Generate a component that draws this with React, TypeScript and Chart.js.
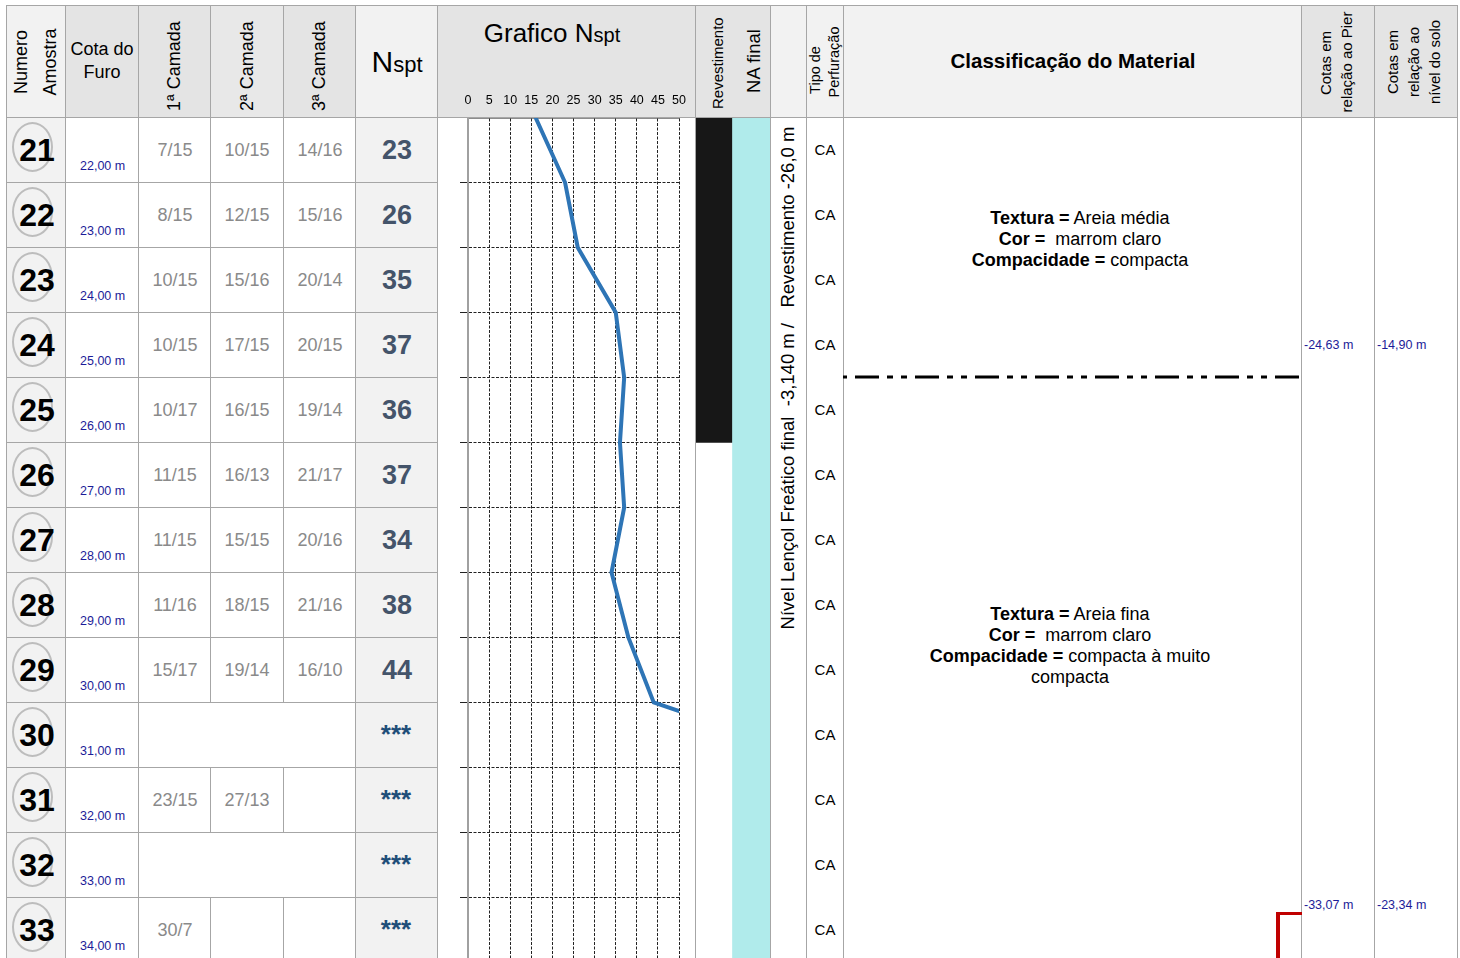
import React, { useEffect, useRef } from "react";
import { Chart, registerables } from "chart.js";

Chart.register(...registerables);

const FONT = "'Liberation Sans', Arial, Helvetica, sans-serif";

// ---------------- data ----------------
const sampleNumbers = [21, 22, 23, 24, 25, 26, 27, 28, 29, 30, 31, 32, 33];
const cotaDoFuro = ["22,00 m", "23,00 m", "24,00 m", "25,00 m", "26,00 m", "27,00 m", "28,00 m", "29,00 m", "30,00 m", "31,00 m", "32,00 m", "33,00 m", "34,00 m"];
const camada1 = ["7/15", "8/15", "10/15", "10/15", "10/17", "11/15", "11/15", "11/16", "15/17", "", "23/15", "", "30/7"];
const camada2 = ["10/15", "12/15", "15/16", "17/15", "16/15", "16/13", "15/15", "18/15", "19/14", "", "27/13", "", ""];
const camada3 = ["14/16", "15/16", "20/14", "20/15", "19/14", "21/17", "20/16", "21/16", "16/10", "", "", "", ""];
const nsptLabels = ["23", "26", "35", "37", "36", "37", "34", "38", "44", "***", "***", "***", "***"];
const mergedCamadas = [false, false, false, false, false, false, false, false, false, true, false, true, false];
const tipoPerfuracao = ["CA", "CA", "CA", "CA", "CA", "CA", "CA", "CA", "CA", "CA", "CA", "CA", "CA"];

// Nspt graph: depth (m) and plotted Nspt
const graphDepths = [21, 22, 23, 24, 25, 26, 27, 28, 29, 30, 31];
const graphNspt = [16, 23, 26, 35, 37, 36, 37, 34, 38, 44, 90];
const nsptAxisMin = 0;
const nsptAxisMax = 50;
const nsptAxisStep = 5;
const depthMin = 21;
const depthMax = 35;

// casing / water level columns
const casingLabels = ["Revestimento", "NA final"];
const casingRanges = [[21, 26], [21, 35]];
const casingColors = ["#171717", "#b0ebeb"];

const naText = "Nível Lençol Freático final  -3,140 m /   Revestimento -26,0 m";
const layerBoundaryDepth = 25;
const markerDepth = 33.25;

const classBlocks = [
  [["Textura =", " Areia média"], ["Cor =", "  marrom claro"], ["Compacidade =", " compacta"]],
  [["Textura =", " Areia fina"], ["Cor =", "  marrom claro"], ["Compacidade =", " compacta à muito"], ["", "compacta"]],
];
const classCenterDepths = [22.88, 29.14];

const cotasPier = ["-24,63 m", "-33,07 m"];
const cotasSolo = ["-14,90 m", "-23,34 m"];
const cotasDepths = [24.5, 33.13];

// ---------------- layout ----------------
const HEAD_TOP = 5;
const HEAD_BOTTOM = 117;
const ROW_H = 65;
const colEdges = [6, 65, 138, 210, 283, 355, 437, 695, 732, 770, 806, 843, 1301, 1374, 1457];
const headFills = ["#f2f2f2", "#e4e4e4", "#e4e4e4", "#e8e8e8", "#e4e4e4", "#f2f2f2", "#e4e4e4", "#e4e4e4", "#e4e4e4", "#f2f2f2", "#f2f2f2", "#f2f2f2", "#e4e4e4", "#e4e4e4"];
const bodyFills = ["#f2f2f2", "#fff", "#fff", "#fff", "#fff", "#f2f2f2", "#fff", "#fff", "#fff", "#fff", "#fff", "#fff", "#fff", "#fff"];
const LINE = "#a6a6a6";
const yOf = (d: number) => HEAD_BOTTOM + (d - depthMin) * ROW_H;

function Rect(p: any) {
  return <div style={{ position: "absolute", left: p.x, top: p.y, width: p.w, height: p.h, background: p.bg }} />;
}

function VText(p: any) {
  const L = p.lh ?? Math.round(p.size * 1.2);
  const style: any = {
    position: "absolute",
    left: p.cx - L / 2,
    width: L,
    lineHeight: L + "px",
    fontSize: p.size,
    fontWeight: p.bold ? 700 : 400,
    color: p.color ?? "#000",
    writingMode: "vertical-rl",
    whiteSpace: "pre",
    textAlign: "center",
  };
  if (p.bottom !== undefined) {
    style.top = p.bottom;
    style.transform = "translateY(-100%) rotate(180deg)";
  } else {
    style.top = p.cy;
    style.transform = "translateY(-50%) rotate(180deg)";
  }
  return <div style={style}>{p.text}</div>;
}

function HText(p: any) {
  const style: any = {
    position: "absolute",
    top: p.cy,
    fontSize: p.size,
    fontWeight: p.bold ? 700 : 400,
    color: p.color ?? "#000",
    whiteSpace: "pre",
    lineHeight: (p.lh ?? Math.round(p.size * 1.2)) + "px",
  };
  if (p.left !== undefined) {
    style.left = p.left;
    style.transform = "translateY(-50%)";
  } else {
    style.left = p.cx;
    style.transform = "translate(-50%, -50%)";
  }
  return <div style={style}>{p.text}</div>;
}

export default function App() {
  const graphRef = useRef<HTMLCanvasElement>(null);
  const barRef = useRef<HTMLCanvasElement>(null);

  useEffect(() => {
    const charts: Chart[] = [];
    if (graphRef.current) {
      charts.push(
        new Chart(graphRef.current, {
          type: "scatter",
          data: {
            datasets: [
              {
                data: graphDepths.map((d, i) => ({ x: graphNspt[i], y: d })),
                showLine: true,
                borderColor: "#2e75b6",
                backgroundColor: "#2e75b6",
                borderWidth: 4,
                pointRadius: 0,
                tension: 0,
              },
            ],
          },
          options: {
            animation: false,
            responsive: false,
            events: [],
            layout: { padding: { left: 23, right: 13, top: 0, bottom: 0.5 } },
            plugins: { legend: { display: false }, tooltip: { enabled: false } },
            scales: {
              x: {
                type: "linear",
                position: "top",
                min: nsptAxisMin,
                max: nsptAxisMax,
                ticks: { stepSize: nsptAxisStep, color: "#000", font: { family: FONT, size: 12.5 }, padding: 9, autoSkip: false, maxRotation: 0 },
                grid: { color: "#222", lineWidth: 1, drawTicks: false },
                border: { display: true, color: "#1a1a1a", width: 1.5, dash: [3, 1.5] },
                afterFit: (s: any) => {
                  s.height = 23.5;
                },
              },
              y: {
                type: "linear",
                reverse: true,
                min: depthMin,
                max: depthMax,
                ticks: { stepSize: 1, display: false },
                grid: { color: "#222", lineWidth: 1, drawTicks: true, tickLength: 8 },
                border: { display: true, color: "#a0a0a0", width: 2, dash: [3, 1.5] },
              },
            },
          },
        } as any)
      );
    }
    if (barRef.current) {
      charts.push(
        new Chart(barRef.current, {
          type: "bar",
          data: {
            labels: casingLabels,
            datasets: [
              {
                data: casingRanges,
                backgroundColor: casingColors,
                borderWidth: 0,
                barPercentage: 1,
                categoryPercentage: 1,
              },
            ],
          },
          options: {
            animation: false,
            responsive: false,
            events: [],
            layout: { padding: { left: 0, right: 0, top: 0.5, bottom: 0.5 } },
            plugins: { legend: { display: false }, tooltip: { enabled: false } },
            scales: {
              x: { display: false },
              y: { display: false, reverse: true, min: depthMin, max: depthMax },
            },
          },
        } as any)
      );
    }
    return () => charts.forEach((c) => c.destroy());
  }, []);

  const bottomY = 958;
  const els: any[] = [];

  // backgrounds
  for (let c = 0; c < colEdges.length - 1; c++) {
    const x = colEdges[c];
    const w = colEdges[c + 1] - x;
    els.push(<Rect key={"hf" + c} x={x} y={HEAD_TOP} w={w} h={HEAD_BOTTOM - HEAD_TOP} bg={headFills[c]} />);
    els.push(<Rect key={"bf" + c} x={x} y={HEAD_BOTTOM} w={w} h={bottomY - HEAD_BOTTOM} bg={bodyFills[c]} />);
  }

  return (
    <div style={{ position: "absolute", left: 0, top: 0, width: 1460, height: 958, overflow: "hidden", background: "#fff", fontFamily: FONT }}>
      {els}
      {/* charts */}
      <canvas ref={graphRef} width={258} height={934} style={{ position: "absolute", left: 437, top: 94, width: 258, height: 934 }} />
      <canvas ref={barRef} width={75} height={911} style={{ position: "absolute", left: 695, top: 117, width: 75, height: 911 }} />

      {/* horizontal lines */}
      <Rect x={colEdges[0]} y={HEAD_TOP} w={colEdges[colEdges.length - 1] - colEdges[0] + 1} h={1} bg={LINE} />
      <Rect x={colEdges[0]} y={HEAD_BOTTOM} w={colEdges[colEdges.length - 1] - colEdges[0] + 1} h={1} bg={LINE} />
      {sampleNumbers.map((_, i) => (
        <Rect key={"hl" + i} x={colEdges[0]} y={HEAD_BOTTOM + (i + 1) * ROW_H} w={colEdges[6] - colEdges[0]} h={1} bg={LINE} />
      ))}

      {/* vertical lines */}
      {colEdges.map((x, c) => {
        if (c === 3 || c === 4) {
          return (
            <React.Fragment key={"vl" + c}>
              <Rect x={x} y={HEAD_TOP} w={1} h={HEAD_BOTTOM - HEAD_TOP} bg={LINE} />
              {sampleNumbers.map((_, i) =>
                mergedCamadas[i] ? null : <Rect key={"vs" + c + "_" + i} x={x} y={HEAD_BOTTOM + i * ROW_H} w={1} h={ROW_H} bg={LINE} />
              )}
            </React.Fragment>
          );
        }
        if (c === 8) return null;
        return <Rect key={"vl" + c} x={x} y={HEAD_TOP} w={1} h={bottomY - HEAD_TOP} bg={LINE} />;
      })}

      {/* header texts */}
      <VText text="Numero" cx={21} cy={62} size={18} />
      <VText text="Amostra" cx={50} cy={62} size={18} />
      <HText text="Cota do" cx={102} cy={49} size={18} />
      <HText text="Furo" cx={102} cy={72} size={18} />
      <VText text="1ª Camada" cx={174} bottom={111} size={18} />
      <VText text="2ª Camada" cx={247} bottom={111} size={18} />
      <VText text="3ª Camada" cx={319} bottom={111} size={18} />
      <div style={{ position: "absolute", left: 397, top: 45, transform: "translateX(-50%)", fontSize: 30, lineHeight: "33px", whiteSpace: "pre" }}>
        N<span style={{ fontSize: 22, lineHeight: 1 }}>spt</span>
      </div>
      <div style={{ position: "absolute", left: 552, top: 19, transform: "translateX(-50%)", fontSize: 26, lineHeight: "29px", whiteSpace: "pre" }}>
        Grafico N<span style={{ fontSize: 20, lineHeight: 1 }}>spt</span>
      </div>
      <VText text="Revestimento" cx={718} bottom={109} size={15} />
      <VText text="NA final" cx={754} cy={61} size={18.5} />
      <VText text="Tipo de" cx={815} cy={70} size={14.5} />
      <VText text="Perfuração" cx={834} cy={62} size={14.5} />
      <HText text="Classificação do Material" cx={1073} cy={60} size={20.5} bold />
      <VText text="Cotas em" cx={1326} cy={63} size={15} />
      <VText text="relação ao Pier" cx={1347} cy={62} size={15} />
      <VText text="Cotas em" cx={1393} cy={62} size={15} />
      <VText text="relação ao" cx={1414} cy={62} size={15} />
      <VText text="nível do solo" cx={1435} cy={62} size={15} />

      {/* body rows */}
      {sampleNumbers.map((n, i) => {
        const top = HEAD_BOTTOM + i * ROW_H;
        return (
          <React.Fragment key={"row" + i}>
            <div style={{ position: "absolute", left: 12, top: top + 5, width: 41, height: 50, boxSizing: "border-box", border: "2px solid #bdbdbd", borderRadius: "50%" }} />
            <HText text={String(n)} cx={37} cy={top + 33} size={32} bold />
            <HText text={cotaDoFuro[i]} left={80} cy={top + 49} size={12.5} color="#1c1c98" lh={14} />
            <HText text={camada1[i]} cx={175} cy={top + 32.5} size={18} color="#8a8a8a" />
            <HText text={camada2[i]} cx={247} cy={top + 32.5} size={18} color="#8a8a8a" />
            <HText text={camada3[i]} cx={320} cy={top + 32.5} size={18} color="#8a8a8a" />
            {nsptLabels[i] === "***" ? (
              <HText text="***" cx={396} cy={top + 32} size={26} bold color="#1f4e79" />
            ) : (
              <HText text={nsptLabels[i]} cx={397} cy={top + 33} size={27} bold color="#44546a" />
            )}
            <HText text={tipoPerfuracao[i]} cx={825} cy={top + 33} size={15} />
          </React.Fragment>
        );
      })}

      {/* vertical NA text */}
      <VText text={naText} cx={788} cy={378} size={18.5} />

      {/* layer boundary */}
      <svg style={{ position: "absolute", left: 843, top: yOf(layerBoundaryDepth) - 2, width: 458, height: 4 }} width={458} height={4}>
        <line x1={0} y1={2} x2={458} y2={2} stroke="#000" strokeWidth={3} strokeDasharray="24 8 6 8 6 8" strokeDashoffset={48} />
      </svg>

      {/* classification */}
      {classBlocks.map((blk, b) => {
        const lh = 21;
        const cy = yOf(classCenterDepths[b]);
        return (
          <div key={"cb" + b} style={{ position: "absolute", left: b === 0 ? 1080 : 1070, top: cy - (blk.length * lh) / 2, transform: "translateX(-50%)", textAlign: "center", fontSize: 18, lineHeight: lh + "px", whiteSpace: "pre" }}>
            {blk.map((ln, k) => (
              <div key={k}>
                <b>{ln[0]}</b>
                {ln[1]}
              </div>
            ))}
          </div>
        );
      })}

      {/* cotas */}
      {cotasPier.map((t, k) => (
        <HText key={"cp" + k} text={t} left={1304} cy={yOf(cotasDepths[k])} size={12.5} color="#1c1c98" lh={14} />
      ))}
      {cotasSolo.map((t, k) => (
        <HText key={"cs" + k} text={t} left={1377} cy={yOf(cotasDepths[k])} size={12.5} color="#1c1c98" lh={14} />
      ))}

      {/* red marker */}
      <Rect x={1276} y={yOf(markerDepth) - 1.5} w={26} h={3.5} bg="#c00000" />
      <Rect x={1276} y={yOf(markerDepth) - 1.5} w={3.5} h={bottomY - yOf(markerDepth) + 2} bg="#c00000" />
    </div>
  );
}
